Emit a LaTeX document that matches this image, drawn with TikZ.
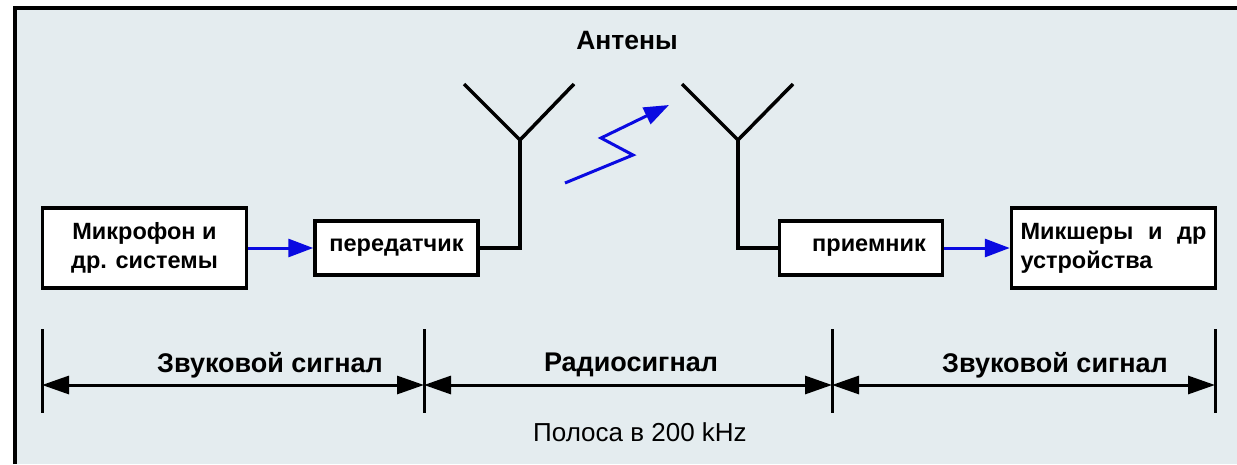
\documentclass[tikz,border=0pt]{standalone}
\usepackage{fontspec}
\setmainfont{Liberation Sans}
\usetikzlibrary{arrows.meta}
\definecolor{rad1bg}{RGB}{228,236,239}
\definecolor{rad1blue}{RGB}{10,10,225}
\begin{document}
\begin{tikzpicture}[x=1pt, y=-1pt,
  rad1box/.style = {draw=black, line width=3.5pt, fill=white, inner sep=0pt,
                    font=\fontsize{23.5}{29}\selectfont\bfseries},
  rad1wire/.style = {line width=3.5pt, black},
  rad1sig/.style = {line width=3pt, rad1blue, -{Triangle[length=25pt,width=18pt]}},
  rad1dim/.style = {line width=3pt,
                    {Triangle[length=27pt,width=18pt]}-{Triangle[length=27pt,width=18pt]}},
  rad1tick/.style = {line width=3pt},
  rad1lbl/.style = {font=\fontsize{27}{30}\selectfont\bfseries},
  rad1note/.style = {font=\fontsize{26}{30}\selectfont}
]
  % 背景与边框
  \useasboundingbox (0,0) rectangle (1237,464);
  \fill[white] (0,0) rectangle (1237,464);
  \fill[rad1bg] (15,8) rectangle (1237,464);
  \draw[line width=4pt] (15,464) -- (15,8) -- (1237,8);
  % 方框
  \node[rad1box, minimum width=204, minimum height=80, align=center]
    (mic) at (144.5,248) {Микрофон и\\др. системы};
  \node[rad1box, minimum width=163, minimum height=54]
    (tx) at (396.5,248) {передатчик};
  \node[rad1box, minimum width=163, minimum height=54]
    (rx) at (861,248) {\hspace*{16pt}приемник};
  \node[rad1box, minimum width=204, minimum height=80, text width=186, align=justify]
    (mix) at (1113.5,248) {Микшеры и др \mbox{устройства}};
  % 音频信号
  \draw[rad1sig] (mic) -- (tx);
  \draw[rad1sig] (rx) -- (mix);
  % 天线
  \coordinate (txfeed) at (520,248);
  \coordinate (txroot) at (520,140);
  \coordinate (rxfeed) at (738,248);
  \coordinate (rxroot) at (738,140);
  \draw[rad1wire] (tx.east) -- (txfeed) -- (txroot);
  \draw[rad1wire] (464,84) -- (txroot) -- (574,84);
  \draw[rad1wire] (rx.west) -- (rxfeed) -- (rxroot);
  \draw[rad1wire] (682,84) -- (rxroot) -- (793,84);
  \node[font=\fontsize{26.5}{30}\selectfont\bfseries] (ant) at (627,41) {Антены};
  % 无线电波
  \draw[rad1sig, line join=miter] (565,183) -- (633,155) -- (601,138) -- (669,105);
  % 尺寸线
  \foreach \t/\x in {t1/42, t2/424, t3/832, t4/1215} {
    \coordinate (\t) at (\x,385);
    \draw[rad1tick] (\x,329) -- (\x,413);
  }
  \draw[rad1dim] (t1) -- (t2);
  \draw[rad1dim] (t2) -- (t3);
  \draw[rad1dim] (t3) -- (t4);
  % 标注
  \node[rad1lbl] (snd1) at (270,365) {Звуковой сигнал};
  \node[rad1lbl] (radio) at (631,365) {Радиосигнал};
  \node[rad1lbl] (snd2) at (1055,365) {Звуковой сигнал};
  \node[rad1note] (band) at (640,432) {Полоса в 200 kHz};
\end{tikzpicture}
\end{document}
